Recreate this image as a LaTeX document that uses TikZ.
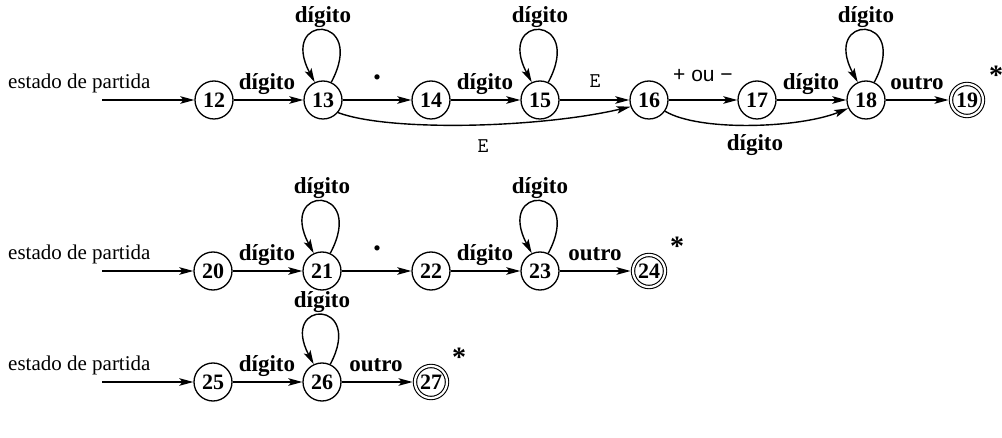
\documentclass[tikz,border=0pt]{standalone}
\usepackage{fontspec}
\setmainfont{Liberation Serif}
\newfontfamily\sansf{Liberation Sans}
\usetikzlibrary{arrows.meta}
\begin{document}
\begin{tikzpicture}[x=1pt,y=-1pt,
  st/.style={circle,draw,line width=1.3pt,minimum size=38pt,inner sep=0pt,
    font=\fontsize{22}{22}\selectfont\bfseries},
  acc/.style={st,minimum size=32pt,double,double distance=2.2pt,line width=1.1pt,outer sep=2.4pt},
  arr/.style={-{Stealth[length=14pt,width=7.5pt,inset=3pt]},line width=1.4pt},
  lbl/.style={font=\fontsize{23}{23}\selectfont\bfseries,inner sep=0pt,anchor=base},
  elab/.style={font=\fontsize{21}{21}\selectfont,inner sep=0pt,anchor=base west},
  tlab/.style={font=\fontsize{21}{21}\selectfont\ttfamily,inner sep=0pt,anchor=base},
  slab/.style={font=\fontsize{21}{21}\selectfont\sansf,inner sep=0pt,anchor=base},
  star/.style={font=\fontsize{28}{28}\selectfont\bfseries,inner sep=0pt},
  loopa/.style={arr},
]
\useasboundingbox (0,0) rectangle (1002,438);
% ---------- row 1 ----------
\def\ra{100}
\node[elab] (s1) at (8,\ra-11) {estado de partida};
\coordinate (in1) at (102,\ra);
\node[st] (n12) at (214,\ra) {12};
\node[st] (n13) at (323,\ra) {13};
\node[st] (n14) at (431,\ra) {14};
\node[st] (n15) at (540,\ra) {15};
\node[st] (n16) at (649,\ra) {16};
\node[st] (n17) at (757,\ra) {17};
\node[st] (n18) at (866,\ra) {18};
\node[acc] (n19) at (967,\ra) {19};
\draw[arr] (in1) -- (n12);
\draw[arr] (n12) -- (n13);
\draw[arr] (n13) -- (n14);
\draw[arr] (n14) -- (n15);
\draw[arr] (n15) -- (n16);
\draw[arr] (n16) -- (n17);
\draw[arr] (n17) -- (n18);
\draw[arr] (n18) -- (n19);
\node[lbl] (l1213) at (267,\ra-10) {dígito};
\node[lbl,font=\fontsize{32}{32}\selectfont\bfseries] (l1314) at (377,\ra-20) {.};
\node[lbl] (l1415) at (485,\ra-10) {dígito};
\node[tlab] (l1516) at (595,\ra-12) {E};
\node[slab] (l1617) at (703,\ra-18) {+ ou −};
\node[lbl] (l1718) at (811,\ra-10) {dígito};
\node[lbl] (l1819) at (917,\ra-10) {outro};
\node[star] (st19) at (996,\ra-25) {*};
\foreach \n in {13,15,18}{
  \draw[loopa] (n\n.65) .. controls +(-62:78) and +(-118:78) .. (n\n.115);
  \node[lbl,anchor=center] (loop\n) at ([yshift=83pt]n\n.center) {dígito};
}
\draw[arr] (n13.-40) .. controls (390,132) and (540,128) .. (n16.-160);
\node[tlab] (l1316) at (483,\ra+53) {E};
\draw[arr] (n16.-35) .. controls (700,132) and (800,128) .. (n18.-155);
\node[lbl] (l1618) at (755,\ra+51) {dígito};
% ---------- row 2 ----------
\def\rb{271}
\node[elab] (s2) at (8,\rb-11) {estado de partida};
\coordinate (in2) at (102,\rb);
\node[st] (n20) at (213,\rb) {20};
\node[st] (n21) at (322,\rb) {21};
\node[st] (n22) at (431,\rb) {22};
\node[st] (n23) at (540,\rb) {23};
\node[acc] (n24) at (649,\rb) {24};
\draw[arr] (in2) -- (n20);
\draw[arr] (n20) -- (n21);
\draw[arr] (n21) -- (n22);
\draw[arr] (n22) -- (n23);
\draw[arr] (n23) -- (n24);
\node[lbl] (l2021) at (267,\rb-10) {dígito};
\node[lbl,font=\fontsize{32}{32}\selectfont\bfseries] (l2122) at (377,\rb-20) {.};
\node[lbl] (l2223) at (485,\rb-10) {dígito};
\node[lbl] (l2324) at (595,\rb-10) {outro};
\node[star] (st24) at (677,\rb-25) {*};
\foreach \n in {21,23}{
  \draw[loopa] (n\n.65) .. controls +(-62:78) and +(-118:78) .. (n\n.115);
  \node[lbl,anchor=center] (loop\n) at ([yshift=83pt]n\n.center) {dígito};
}
% ---------- row 3 ----------
\def\rc{382}
\node[elab] (s3) at (8,\rc-11) {estado de partida};
\coordinate (in3) at (102,\rc);
\node[st] (n25) at (213,\rc) {25};
\node[st] (n26) at (322,\rc) {26};
\node[acc] (n27) at (431,\rc) {27};
\draw[arr] (in3) -- (n25);
\draw[arr] (n25) -- (n26);
\draw[arr] (n26) -- (n27);
\node[lbl] (l2526) at (267,\rc-10) {dígito};
\node[lbl] (l2627) at (376,\rc-10) {outro};
\node[star] (st27) at (459,\rc-25) {*};
\draw[loopa] (n26.65) .. controls +(-62:74) and +(-118:74) .. (n26.115);
\node[lbl,anchor=center] (loop26) at ([yshift=80pt]n26.center) {dígito};
\end{tikzpicture}
\end{document}
